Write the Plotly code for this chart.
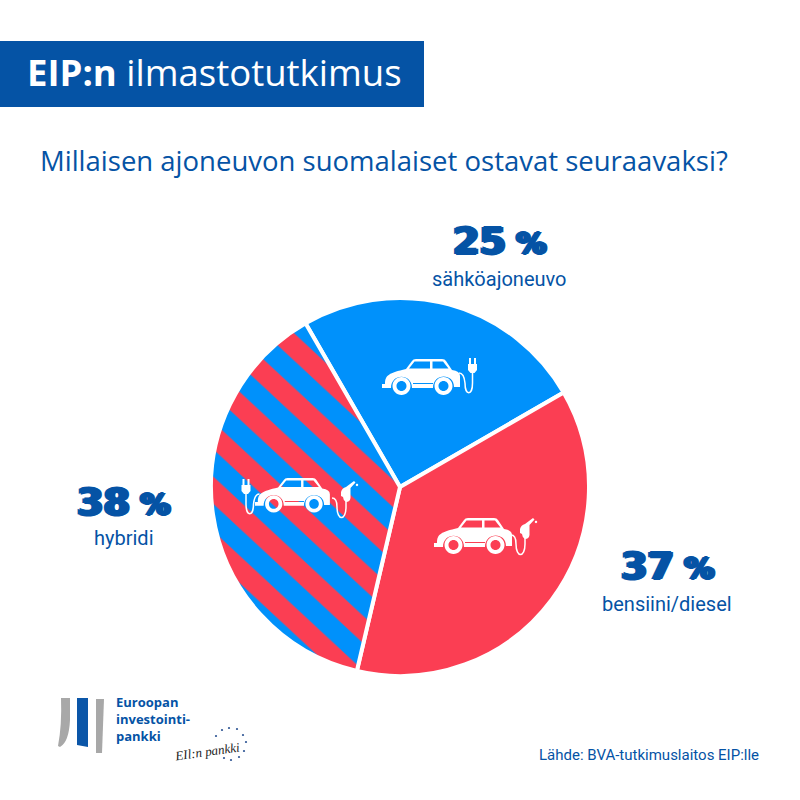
import plotly.graph_objects as go

# chart data
categories = ["sähköajoneuvo", "bensiini/diesel", "hybridi"]
values = [25, 37, 38]
header_bold = "EIP:n"
header_rest = "ilmastotutkimus"
question = "Millaisen ajoneuvon suomalaiset ostavat seuraavaksi?"
source = "Lähde: BVA-tutkimuslaitos EIP:lle"
logo_lines = ["Euroopan", "investointi-", "pankki"]
logo_script = "EIl:n pankki"

BLUE = "#0091fb"
RED = "#fb3e53"
DARK = "#0553a5"
WHITE = "#ffffff"


def circle(cx, cy, r):
    k = 0.5523 * r
    return (f"M{cx-r},{cy} C{cx-r},{cy-k} {cx-k},{cy-r} {cx},{cy-r} "
            f"C{cx+k},{cy-r} {cx+r},{cy-k} {cx+r},{cy} "
            f"C{cx+r},{cy+k} {cx+k},{cy+r} {cx},{cy+r} "
            f"C{cx-k},{cy+r} {cx-r},{cy+k} {cx-r},{cy} Z ")


def shape(path, fill=WHITE, line=None, width=0):
    s = dict(type="path", path=path, xref="x", yref="y", layer="above",
             line=dict(width=width, color=line or "rgba(0,0,0,0)"))
    if fill:
        s["fillcolor"] = fill
    return s


def car(ox, oy, sc=1.0):
    # body with windows cut out, wheels drawn as rings
    X = lambda v: round(ox + v * sc, 2)
    Y = lambda v: round(oy + v * sc, 2)
    P = lambda x, y: f"{X(x)},{Y(y)}"
    body = (f"M{P(0,25)} L{P(3,25)} C{P(3,16)} {P(7,14)} {P(24,10)} "
            f"L{P(30,2)} Q{P(31,0)} {P(34,0)} L{P(60,0)} Q{P(63,0)} {P(64,2)} L{P(70,11)} "
            f"Q{P(78,12)} {P(78,17)} L{P(78,28)} L{P(72,28)} "
            f"C{P(72,14)} {P(51,14)} {P(51,29)} L{P(30,29)} "
            f"C{P(30,14)} {P(9,14)} {P(9,29)} L{P(0,29)} Z "
            f"M{P(27,9.5)} L{P(32.5,2.5)} L{P(48,2.5)} L{P(48,9.5)} Z "
            f"M{P(50.5,2.5)} L{P(61,2.5)} L{P(66.5,9.5)} L{P(50.5,9.5)} Z "
            f"M{P(31,24)} L{P(51,24)} L{P(51,25)} L{P(31,25)} Z ")
    wheels = (circle(X(19.5), Y(27), 9 * sc) + circle(X(19.5), Y(27), 5 * sc)
              + circle(X(61.5), Y(27), 9 * sc) + circle(X(61.5), Y(27), 5 * sc))
    return [shape(body), shape(wheels)]


def plug(ox, oy, flip=False):
    # cable start at (ox, oy), plug head above the far end
    d = -1 if flip else 1
    X = lambda v: ox + d * v
    Y = lambda v: oy + v
    cable = (f"M{X(0)},{Y(0)} Q{X(5)},{Y(0)} {X(6)},{Y(10)} C{X(6)},{Y(23)} "
             f"{X(13.5)},{Y(23)} {X(13.5)},{Y(10)} L{X(13.5)},{Y(-2)}")
    head = (f"M{X(9)},{Y(-9)} L{X(18)},{Y(-9)} L{X(18)},{Y(-3)} L{X(15.5)},{Y(0)} "
            f"L{X(11.5)},{Y(0)} L{X(9)},{Y(-3)} Z "
            f"M{X(10)},{Y(-15)} L{X(12)},{Y(-15)} L{X(12)},{Y(-9)} L{X(10)},{Y(-9)} Z "
            f"M{X(15)},{Y(-15)} L{X(17)},{Y(-15)} L{X(17)},{Y(-9)} L{X(15)},{Y(-9)} Z ")
    return [shape(cable, fill=None, line=WHITE, width=1.5), shape(head)]


def pump(ox, oy):
    # fuel hose from the car to the nozzle, with a drop at the tip
    cable = (f"M{ox},{oy} Q{ox+5},{oy} {ox+5},{oy+9} C{ox+5},{oy+23} "
             f"{ox+14},{oy+23} {ox+14},{oy+9} L{ox+14},{oy+1}")
    nozzle = (f"M{ox+9},{oy-6} Q{ox+10},{oy-10} {ox+14},{oy-11} L{ox+22},{oy-17} L{ox+23.5},{oy-15.5} "
              f"L{ox+18.5},{oy-10} L{ox+18.5},{oy} Q{ox+18},{oy+4} {ox+14},{oy+4} "
              f"Q{ox+11},{oy+2} {ox+11},{oy-1} L{ox+9},{oy-2} Z ")
    return [shape(cable, fill=None, line=WHITE, width=1.5), shape(nozzle),
            shape(circle(ox + 25, oy - 13, 1.2))]


fig = go.Figure()

fig.add_trace(go.Pie(
    labels=categories,
    values=values,
    sort=False,
    direction="clockwise",
    rotation=-30,
    textinfo="none",
    hoverinfo="label+percent",
    showlegend=False,
    domain=dict(x=[(400 - 189) / 800, (400 + 189) / 800],
                y=[(800 - 487 - 189) / 800, (800 - 487 + 189) / 800]),
    marker=dict(
        colors=[BLUE, RED, BLUE],
        line=dict(color=WHITE, width=4),
        pattern=dict(shape=["", "", "\\"], fgcolor=RED, bgcolor=BLUE,
                     fillmode="replace", size=40, solidity=0.5),
    ),
))

shapes = [dict(type="rect", xref="x", yref="y", x0=0, x1=424, y0=41, y1=107,
               fillcolor=DARK, line=dict(width=0), layer="above")]

shapes += car(382, 359) + plug(459, 373)
shapes += car(434, 518) + pump(511, 535)
shapes += car(255, 478, 0.96) + pump(332, 498) + plug(259.5, 494, flip=True)

# logo bars
shapes += [
    shape("M61,698 L70,698 L70,720 Q69,742 60,747 L58,746 Q62,725 61,698 Z", fill="#a8a8a8"),
    shape("M77,698 L88,698 L88,747 L77,745 Z", fill="#0b56a8"),
    shape("M96,699 L104,699 L102,753 L96,753 Z", fill="#a8a8a8"),
]
stars = [(222, 730), (229, 728), (237, 729), (243, 735), (246, 742), (244, 751),
         (239, 757), (231, 760), (224, 758), (216, 736)]
for sx, sy in stars:
    shapes.append(shape(circle(sx, sy, 1.1), fill="#3a5f9a"))


def note(x, y, text, size, family, color=DARK, anchor="center", **kw):
    font_kw = {k: kw.pop(k) for k in list(kw) if k in ("shadow", "style")}
    return dict(x=x, y=y, xref="x", yref="y", text=text, showarrow=False, xanchor=anchor,
                yanchor="middle", font=dict(family=family, size=size, color=color, **font_kw), **kw)


HEAVY = "DejaVu Sans"
NARROW = "Roboto"
thick = "2px 0 0 #0553a5, -2px 0 0 #0553a5, 0 0.6px 0 #0553a5, 0 -0.6px 0 #0553a5"

value_pos = [(499, 241), (667, 566), (123, 502)]
label_pos = [(499, 279), (667, 604), (124, 538)]
annotations = [
    note(25, 72, f"<b>{header_bold}</b> {header_rest}", 36.5, "Open Sans", WHITE, "left"),
    note(38, 160, question, 27.5, "Open Sans", DARK, "left"),
    note(761, 755, source, 15, NARROW, DARK, "right"),
]
for v, c, vp, lp in zip(values, categories, value_pos, label_pos):
    annotations.append(note(vp[0], vp[1], f"<b><span style='font-size:38px'>{v}</span> %</b>", 30, HEAVY, shadow=thick))
    annotations.append(note(lp[0], lp[1], c, 20, NARROW))
annotations.append(note(114, 719, "<b>" + "<br>".join(logo_lines) + "</b>", 13, "Open Sans", DARK, "left", align="left"))
annotations.append(note(171, 751, logo_script, 13, "Liberation Serif", "#222222", "left",
                        style="italic", textangle=-8))

fig.update_layout(
    width=800,
    height=800,
    margin=dict(l=0, r=0, t=0, b=0),
    paper_bgcolor=WHITE,
    plot_bgcolor=WHITE,
    xaxis=dict(range=[0, 800], visible=False, fixedrange=True),
    yaxis=dict(range=[800, 0], visible=False, fixedrange=True),
    shapes=shapes,
    annotations=annotations,
)

# no page margin, and nudge the stripes onto the reference's phase and slope
fig.write_html("out.html", config=dict(displayModeBar=False),
               post_script="document.body.style.margin='0';"
                           "document.querySelectorAll('pattern').forEach(function(p){"
                           "p.setAttribute('patternTransform','translate(0,19) rotate(-2.1)');});")
